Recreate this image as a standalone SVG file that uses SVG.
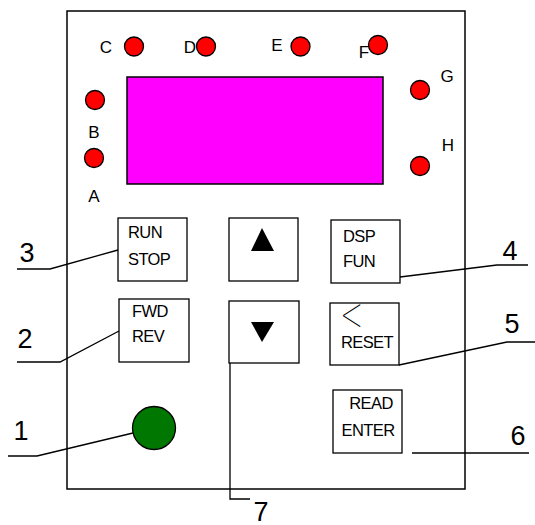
<svg xmlns="http://www.w3.org/2000/svg" width="535" height="525" viewBox="0 0 535 525">
  <style>
    .frame { fill: #fff; stroke: #000; stroke-width: 1.5; }
    .key { fill: #fff; stroke: #000; stroke-width: 1.3; }
    .led { fill: #ff0000; stroke: #000; stroke-width: 1.3; }
    .lead { fill: none; stroke: #000; stroke-width: 1.3; }
    .cap { font-family: "Liberation Sans", Arial, sans-serif; font-size: 16.5px; letter-spacing: -0.6px; fill: #000; }
    .tag { font-family: "Liberation Sans", Arial, sans-serif; font-size: 17px; fill: #000; }
    .num { font-family: "Liberation Sans", Arial, sans-serif; font-size: 27px; fill: #000; text-anchor: middle; }
    .chev { font-family: Inter, "Liberation Sans", sans-serif; font-weight: 100; font-size: 44px; fill: #000; }
  </style>
  <rect width="535" height="525" fill="#fff"/>

  <!-- panel outline -->
  <g id="panel">
    <rect class="frame" x="67" y="11" width="398" height="478"/>
  </g>

  <!-- display window -->
  <g id="display">
    <rect x="127" y="77" width="256" height="107" fill="#ff00ff" stroke="#000" stroke-width="1.5"/>
  </g>

  <!-- indicator lamps -->
  <g id="led-C"><circle class="led" cx="134" cy="46.5" r="9.5"/><text class="tag" x="106" y="53" text-anchor="middle">C</text></g>
  <g id="led-D"><circle class="led" cx="206" cy="46.5" r="9.5"/><text class="tag" x="190" y="53" text-anchor="middle">D</text></g>
  <g id="led-E"><circle class="led" cx="300.5" cy="46.5" r="9.5"/><text class="tag" x="277" y="51" text-anchor="middle">E</text></g>
  <g id="led-F"><circle class="led" cx="378" cy="45" r="9.5"/><text class="tag" x="364" y="58" text-anchor="middle">F</text></g>
  <g id="led-G"><circle class="led" cx="420" cy="90" r="9.5"/><text class="tag" x="447" y="82" text-anchor="middle">G</text></g>
  <g id="led-H"><circle class="led" cx="420" cy="166" r="9.5"/><text class="tag" x="448" y="151" text-anchor="middle">H</text></g>
  <g id="led-B"><circle class="led" cx="95" cy="100" r="9.5"/><text class="tag" x="94" y="138" text-anchor="middle">B</text></g>
  <g id="led-A"><circle class="led" cx="94" cy="158" r="9.5"/><text class="tag" x="94" y="202" text-anchor="middle">A</text></g>

  <!-- keys -->
  <g id="key-run">
    <rect class="key" x="118" y="218" width="69" height="63"/>
    <text class="cap" x="128" y="238">RUN</text>
    <text class="cap" x="128" y="265">STOP</text>
  </g>
  <g id="key-fwd">
    <rect class="key" x="119" y="299" width="70" height="63"/>
    <text class="cap" x="132" y="317">FWD</text>
    <text class="cap" x="132" y="342">REV</text>
  </g>
  <g id="key-up">
    <rect class="key" x="229" y="218" width="69" height="63"/>
    <polygon points="262,228 274,251 251,251" fill="#000"/>
  </g>
  <g id="key-down">
    <rect class="key" x="229" y="301" width="70" height="62"/>
    <polygon points="251,322 274,322 262,342" fill="#000"/>
  </g>
  <g id="key-dsp">
    <rect class="key" x="331" y="220" width="69" height="63"/>
    <text class="cap" x="343" y="242">DSP</text>
    <text class="cap" x="343" y="267">FUN</text>
  </g>
  <g id="key-reset">
    <rect class="key" x="330" y="303" width="69" height="62"/>
    <text class="chev" x="352.5" y="327.5" text-anchor="middle">&lt;</text>
    <text class="cap" x="367" y="348" text-anchor="middle">RESET</text>
  </g>
  <g id="key-enter">
    <rect class="key" x="333" y="390" width="69" height="63"/>
    <text class="cap" x="371" y="409" text-anchor="middle">READ</text>
    <text class="cap" x="368" y="436" text-anchor="middle">ENTER</text>
  </g>
  <g id="knob">
    <circle cx="154" cy="428" r="21.5" fill="#007700" stroke="#000" stroke-width="1.3"/>
  </g>

  <!-- leader lines -->
  <g id="leaders">
    <polyline class="lead" points="17,269 50,269 118,250"/>
    <polyline class="lead" points="17,362 60,362 119,331"/>
    <polyline class="lead" points="8,456 37,456 133,433"/>
    <polyline class="lead" points="400,277 497,265 528,265"/>
    <polyline class="lead" points="399,365 507,342 535,342"/>
    <line class="lead" x1="412" y1="453" x2="529" y2="453"/>
    <polyline class="lead" points="230,363 230,499 250,499"/>
  </g>

  <!-- callout numbers -->
  <g id="callouts">
    <text class="num" x="27" y="262">3</text>
    <text class="num" x="25" y="348">2</text>
    <text class="num" x="21" y="440">1</text>
    <text class="num" x="510" y="260">4</text>
    <text class="num" x="512" y="333">5</text>
    <text class="num" x="518" y="445">6</text>
    <text class="num" x="261" y="521">7</text>
  </g>
</svg>
